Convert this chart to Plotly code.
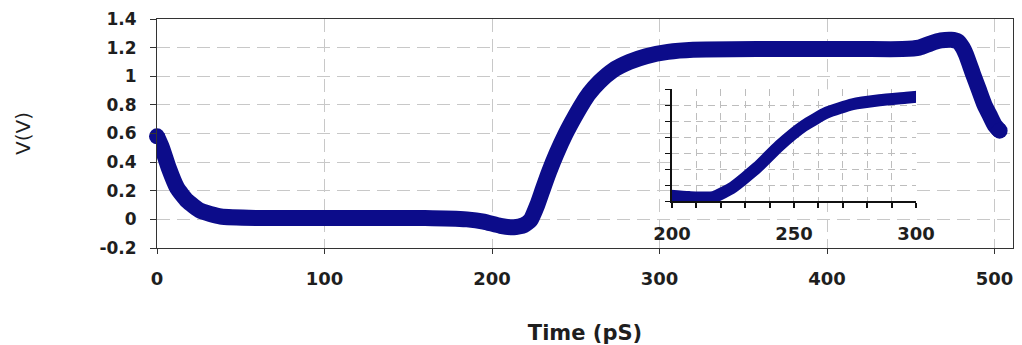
import plotly.graph_objects as go

# ---- data ----
time_ps = [0, 3, 7, 12, 18, 26, 38, 60, 120, 160, 185, 195, 205, 213, 219, 223,
           227, 230, 234, 238.5, 244, 249.5, 254, 258, 264, 272, 282, 292, 305,
           320, 360, 420, 445, 455, 462, 468, 474, 478, 481, 483, 487, 490.5,
           494, 497, 500, 503]
volts = [0.58, 0.50, 0.36, 0.22, 0.13, 0.06, 0.02, 0.01, 0.01, 0.01, 0.0, -0.015,
         -0.045, -0.055, -0.04, -0.005, 0.10, 0.20, 0.33, 0.46, 0.60, 0.72, 0.81,
         0.88, 0.96, 1.04, 1.10, 1.14, 1.17, 1.185, 1.19, 1.19, 1.19, 1.20, 1.23,
         1.25, 1.255, 1.245, 1.20, 1.15, 1.02, 0.91, 0.80, 0.73, 0.66, 0.62]

inset_time = [198, 207, 217, 225, 235, 244, 254, 263.5, 274, 285, 296, 303]
inset_v = [0.37, 0.27, 0.27, 0.89, 2.13, 3.48, 4.72, 5.55, 6.07, 6.32, 6.48, 6.58]

x_ticks = [0, 100, 200, 300, 400, 500]
x_tick_labels = ["0", "100", "200", "300", "400", "500"]
y_ticks = [-0.2, 0, 0.2, 0.4, 0.6, 0.8, 1.0, 1.2, 1.4]
y_tick_labels = ["-0.2", "0", "0.2", "0.4", "0.6", "0.8", "1", "1.2", "1.4"]
inset_ticks = [200, 210, 220, 230, 240, 250, 260, 270, 280, 290, 300]
inset_tick_labels = ["200", "", "", "", "", "250", "", "", "", "", "300"]
inset_y_ticks = [0, 1, 2, 3, 4, 5, 6, 7]

NAVY = "#0c0c8a"
FONT = "DejaVu Sans"
TXT = "#1e1e1e"


def end_sizes(n, s):
    return [s] + [0] * (n - 2) + [s]


fig = go.Figure()
fig.add_trace(go.Scatter(
    x=time_ps, y=volts, mode="lines+markers",
    line=dict(color=NAVY, width=16, shape="spline", smoothing=0.5),
    marker=dict(color=NAVY, opacity=1, size=end_sizes(len(time_ps), 16), line=dict(width=0)),
    cliponaxis=False, showlegend=False, hoverinfo="x+y"))
fig.add_trace(go.Scatter(
    x=inset_time, y=inset_v, mode="lines+markers", xaxis="x2", yaxis="y2",
    line=dict(color=NAVY, width=12, shape="spline", smoothing=0.5),
    marker=dict(color=NAVY, opacity=1, size=end_sizes(len(inset_time), 12), line=dict(width=0)),
    cliponaxis=False, showlegend=False, hoverinfo="x+y"))

# the page body adds an 8px offset, so the figure is 8px smaller and margins shifted
fig.update_layout(
    template="none",
    width=1014, height=337, autosize=False,
    margin=dict(l=149, r=9, t=11, b=97, pad=0),
    paper_bgcolor="white", plot_bgcolor="white",
    font=dict(family=FONT, color=TXT),
    xaxis=dict(
        range=[0, 511], tickvals=x_ticks, ticktext=x_tick_labels, automargin=False,
        showline=True, linecolor="#333333", linewidth=1, mirror=True,
        ticks="outside", ticklen=5, tickcolor="#333333",
        showgrid=True, gridcolor="#c8c8c8", griddash="13px,7px", gridwidth=1,
        zeroline=False, ticklabelstandoff=9, ticklabeloverflow="allow",
        tickfont=dict(family=FONT, size=18, color=TXT, weight="bold"),
        title=dict(text="Time (pS)", standoff=38,
                   font=dict(family=FONT, size=21, color=TXT, weight="bold")),
    ),
    yaxis=dict(
        range=[-0.2, 1.4001], tickvals=y_ticks, ticktext=y_tick_labels, automargin=False,
        showline=True, linecolor="#333333", linewidth=1, mirror=True,
        ticks="outside", ticklen=6, tickcolor="#333333",
        showgrid=True, gridcolor="#c8c8c8", griddash="13px,7px", gridwidth=1,
        zeroline=False, ticklabelstandoff=10, ticklabeloverflow="allow",
        tickfont=dict(family=FONT, size=17, color=TXT, weight="bold"),
        title=dict(text="V(V)", standoff=63,
                   font=dict(family=FONT, size=20, color=TXT)),
    ),
    xaxis2=dict(
        domain=[0.6016, 0.8867], anchor="y2", range=[200, 300], automargin=False,
        tickvals=inset_ticks, ticktext=inset_tick_labels,
        showline=True, linecolor="#111111", linewidth=1.5,
        ticks="outside", ticklen=5, tickcolor="#111111", tickwidth=1.5,
        showgrid=True, gridcolor="#bdbdbd", griddash="7px,5px", gridwidth=1,
        zeroline=False, ticklabelstandoff=10, ticklabeloverflow="allow",
        tickfont=dict(family=FONT, size=18, color=TXT, weight="bold"),
    ),
    yaxis2=dict(
        domain=[0.2035, 0.6926], anchor="x2", range=[0, 7], automargin=False,
        tickvals=inset_y_ticks, showticklabels=False,
        showline=True, linecolor="#111111", linewidth=2,
        ticks="outside", ticklen=5, tickcolor="#111111",
        showgrid=True, gridcolor="#bdbdbd", griddash="7px,5px", gridwidth=1,
        zeroline=False,
    ),
)

fig.write_html("out.html")
